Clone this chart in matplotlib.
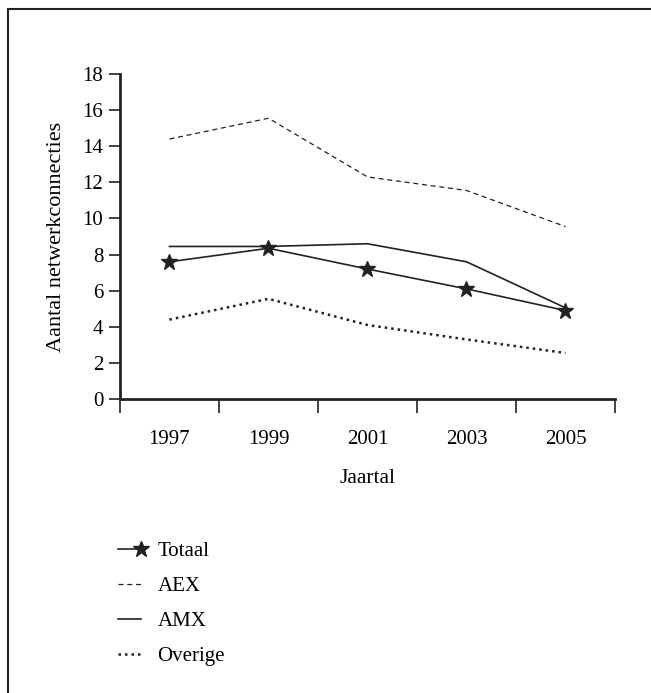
import matplotlib
matplotlib.use("Agg")
import matplotlib.pyplot as plt
from matplotlib.legend_handler import HandlerLine2D
from matplotlib.lines import Line2D

plt.rcParams['font.family'] = ['Liberation Serif', 'DejaVu Serif']

years = ['1997', '1999', '2001', '2003', '2005']
totaal = [7.6, 8.35, 7.2, 6.1, 4.9]
aex = [14.4, 15.55, 12.3, 11.55, 9.55]
amx = [8.45, 8.45, 8.6, 7.6, 5.05]
overige = [4.4, 5.55, 4.1, 3.3, 2.55]

y_ticks = list(range(0, 19, 2))


class EndMarkerHandler(HandlerLine2D):
    # legend handle with the marker at the right end of the line
    def create_artists(self, *args, **kwargs):
        arts = super().create_artists(*args, **kwargs)
        arts[0].set_markevery([2])
        return arts


fig = plt.figure(figsize=(6.51, 6.93), dpi=100)
ax = fig.add_axes([0.1843, 0.4242, 0.7604, 0.469])

x = list(range(len(years)))
tot, = ax.plot(x, totaal, color='#222222', lw=1.2, marker='*',
               markersize=12, label='Totaal')
ae, = ax.plot(x, aex, color='#222222', lw=0.9, ls=(0, (4, 3)), label='AEX')
am, = ax.plot(x, amx, color='#222222', lw=1.2, label='AMX')
ov, = ax.plot(x, overige, color='#222222', lw=1.8, ls=(0, (1, 1.6)),
              label='Overige')

ax.set_xlim(-0.5, len(years) - 0.5)
ax.set_ylim(0, 18)
ax.set_yticks(y_ticks)
ax.set_yticklabels([str(v) for v in y_ticks])
ax.set_xticks([i - 0.5 for i in range(len(years) + 1)])
ax.set_xticklabels([])
ax.set_xticks(x, minor=True)
ax.set_xticklabels(years, minor=True)
ax.tick_params(axis='x', which='major', direction='out', length=10,
               width=1.2, color='#222222')
ax.tick_params(axis='x', which='minor', length=0, pad=22, labelsize=15)
ax.tick_params(axis='y', direction='out', length=8, width=1.2,
               color='#222222', labelsize=15, pad=4)

for s in ['top', 'right']:
    ax.spines[s].set_visible(False)
for s in ['left', 'bottom']:
    ax.spines[s].set_linewidth(2)
    ax.spines[s].set_color('#222222')

ax.set_xlabel('Jaartal', fontsize=15.5, labelpad=15)
ax.set_ylabel('Aantal netwerkconnecties', fontsize=16, labelpad=12)

fig.legend([tot, ae, am, ov], ['Totaal', 'AEX', 'AMX', 'Overige'],
           loc='upper left', bbox_to_anchor=(0.153, 0.246), frameon=False,
           fontsize=15, handlelength=1.1, handletextpad=0.77,
           labelspacing=0.75, numpoints=1,
           handler_map={tot: EndMarkerHandler()})

# frame lines at top and left of the figure
fig.add_artist(Line2D([0.0123, 0.0123], [0, 0.987], transform=fig.transFigure,
                      color='#222222', lw=1.5))
fig.add_artist(Line2D([0.0123, 1], [0.987, 0.987], transform=fig.transFigure,
                      color='#222222', lw=1.5))

fig.savefig('out.png', dpi=100)
